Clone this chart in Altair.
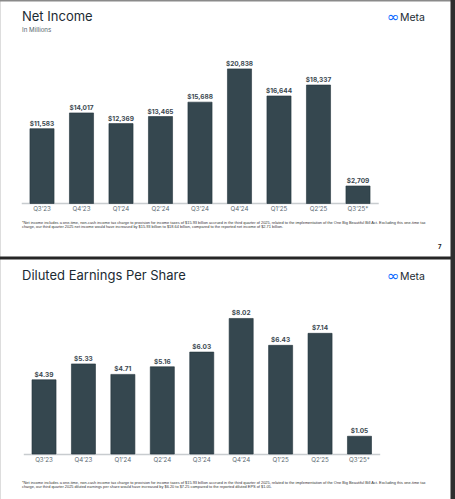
import altair as alt
import pandas as pd

# Quarterly results
quarters = ["Q3’23", "Q4’23", "Q1’24", "Q2’24", "Q3’24", "Q4’24", "Q1’25", "Q2’25", "Q3’25*"]
net_income = [11583, 14017, 12369, 13465, 15688, 20838, 16644, 18337, 2709]
diluted_eps = [4.39, 5.33, 4.71, 5.16, 6.03, 8.02, 6.43, 7.14, 1.05]

title_top = "Net Income"
subtitle_top = "In Millions"
title_bottom = "Diluted Earnings Per Share"
page_number = "7"
note_top = [
    "*Net income includes a one-time, non-cash income tax charge to provision for income taxes of $15.93 billion accrued in the third quarter of 2025, related to the implementation of the One Big Beautiful Bill Act. Excluding this one-time tax",
    "charge, our third quarter 2025 net income would have increased by $15.93 billion to $18.64 billion, compared to the reported net income of $2.71 billion.",
]
note_bottom = [
    "*Net income includes a one-time, non-cash income tax charge to provision for income taxes of $15.93 billion accrued in the third quarter of 2025, related to the implementation of the One Big Beautiful Bill Act. Excluding this one-time tax",
    "charge, our third quarter 2025 diluted earnings per share would have increased by $6.20 to $7.25 compared to the reported diluted EPS of $1.05.",
]

BAR = "#35474f"
INK = "#1c2b33"
FONT = "Inter"
NOTE_FONT = "Liberation Sans"
NOTE_SIZE = 3.9

df_top = pd.DataFrame({"quarter": quarters, "value": net_income})
df_bot = pd.DataFrame({"quarter": quarters, "value": diluted_eps})


def panel(df, x_range, y_domain, y_range, fmt, label_y, base_y):
    xs = alt.Scale(domain=quarters, range=x_range, paddingInner=0.39, paddingOuter=0.195)
    ys = alt.Scale(domain=y_domain, range=y_range, nice=False, zero=True)
    base = alt.Chart(df)
    bars = base.mark_bar(color=BAR, stroke="#24343c", strokeWidth=0.6).encode(
        x=alt.X("quarter:N", scale=xs, axis=None),
        y=alt.Y("value:Q", scale=ys, axis=None),
    )
    values = base.mark_text(
        font=FONT, fontSize=6.5, fontWeight="bold", color="#3b4850", baseline="bottom", dy=-2
    ).encode(
        x=alt.X("quarter:N", scale=xs, axis=None),
        y=alt.Y("value:Q", scale=ys, axis=None),
        text=alt.Text("value:Q", format=fmt),
    )
    xlabels = base.mark_text(font=FONT, fontSize=6.2, color="#5a6870", baseline="middle").encode(
        x=alt.X("quarter:N", scale=xs, axis=None),
        y=alt.value(label_y),
        text="quarter:N",
    )
    baseline = alt.Chart(pd.DataFrame({"k": [0]})).mark_rule(color="#c8cccf", strokeWidth=1.5).encode(
        x=alt.value(x_range[0] - 0.5), x2=alt.value(x_range[1] + 1), y=alt.value(base_y)
    )
    return alt.layer(baseline, bars, values, xlabels)


def text_at(s, x, y, size, color=INK, weight="normal", font=FONT, baseline="middle", align="left"):
    return alt.Chart(pd.DataFrame({"t": [s]})).mark_text(
        font=font, fontSize=size, color=color, fontWeight=weight, baseline=baseline, align=align
    ).encode(x=alt.value(x), y=alt.value(y), text="t:N")


def meta_logo(y):
    return alt.layer(
        text_at("∞", 387, y, 15, color="#0866ff", font="DejaVu Sans"),
        text_at("Meta", 400, y + 0.5, 10.5, color=INK),
    )


def rule(x, x2, y, y2, color):
    return alt.Chart(pd.DataFrame({"k": [0]})).mark_rect(color=color).encode(
        x=alt.value(x), x2=alt.value(x2), y=alt.value(y), y2=alt.value(y2)
    )


top_panel = panel(df_top, [22.25, 377.75], [0, 25000], [203.5, 42], "$,.0f", 209, 203.5)
bot_panel = panel(df_bot, [24.3, 379.2], [0, 10], [454, 285], "$.2f", 459.5, 454.5)

decor = alt.layer(
    text_at(title_top, 22, 17, 13),
    text_at(subtitle_top, 22, 29.5, 6.2, color="#55656e"),
    meta_logo(17),
    text_at(note_top[0], 22, 223, NOTE_SIZE, color="#333333", font=NOTE_FONT),
    text_at(note_top[1], 22, 227.3, NOTE_SIZE, color="#333333", font=NOTE_FONT),
    text_at(page_number, 438, 247, 6, weight="bold", color="#222222"),
    text_at(title_bottom, 22, 276, 13),
    meta_logo(276),
    text_at(note_bottom[0], 22, 483, NOTE_SIZE, color="#333333", font=NOTE_FONT),
    text_at(note_bottom[1], 22, 487.3, NOTE_SIZE, color="#333333", font=NOTE_FONT),
    rule(0, 455, 0, 1.5, "#8a8a8a"),
    rule(0, 455, 256.5, 259.5, "#262626"),
    rule(450.5, 455, 0, 499, "#2e2e2e"),
)

chart = (
    alt.layer(decor, top_panel, bot_panel)
    .resolve_scale(x="independent", y="independent")
    .properties(width=455, height=499, padding=0, autosize=alt.AutoSizeParams(type="none"))
    .configure_view(stroke=None)
    .configure(background="white")
)

chart.save("out.html", embed_options={"renderer": "svg", "actions": False})
